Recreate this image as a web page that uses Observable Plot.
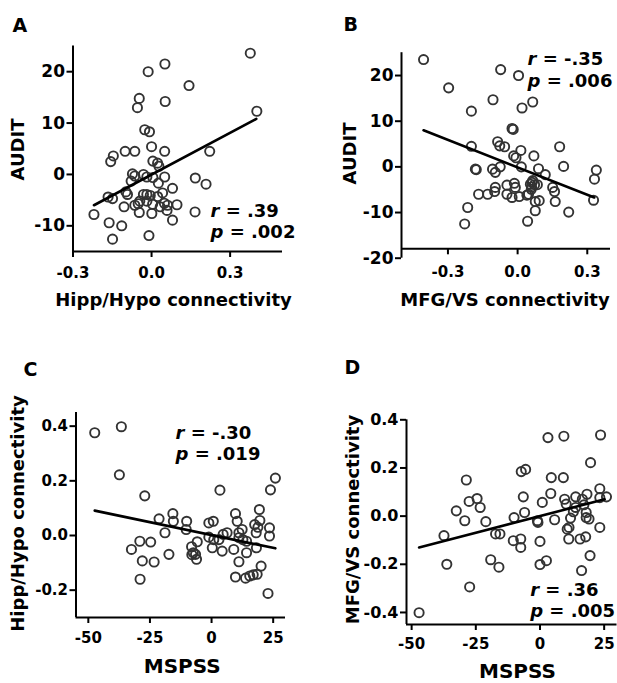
<!DOCTYPE html>
<html><head><meta charset="utf-8">
<script src="https://cdn.jsdelivr.net/npm/d3@7"></script>
<script src="https://cdn.jsdelivr.net/npm/@observablehq/plot@0.6"></script>
<style>
html,body{margin:0;padding:0;background:#fff;}
#fig{position:relative;width:617px;height:683px;overflow:hidden;background:#fff;}
#fig svg{position:absolute;}
#fig svg text{font-weight:bold;}
</style></head><body><div id="fig"></div>
<script>
// ---------- Panel A: Hipp/Hypo connectivity vs AUDIT ----------
const aConn = [0.377,0.051,-0.013,0.143,-0.047,0.052,-0.054,0.402,-0.026,-0.008,0.000,-0.101,-0.064,0.050,0.222,-0.146,-0.156,0.005,0.023,0.028,-0.073,-0.064,-0.031,-0.018,0.050,0.005,-0.078,0.026,0.167,0.208,0.080,-0.098,-0.092,-0.166,-0.149,-0.031,-0.018,-0.005,0.023,0.042,-0.045,-0.051,-0.064,-0.018,0.004,0.033,0.049,0.061,0.097,-0.105,-0.047,0.001,0.059,0.166,-0.220,0.080,-0.162,-0.114,-0.149,-0.010];
const aAudit = [23.6,21.5,20.0,17.3,14.8,14.2,13.0,12.3,8.7,8.3,5.4,4.5,4.5,4.5,4.5,3.6,2.5,2.6,2.2,1.6,0.1,-0.3,0.0,-0.5,-0.5,-0.6,-1.3,-1.7,-0.7,-1.9,-2.7,-3.4,-3.9,-4.4,-4.7,-3.9,-3.9,-4.1,-4.3,-3.6,-5.2,-5.7,-6.0,-5.2,-5.8,-6.3,-5.6,-6.0,-5.9,-6.3,-7.4,-7.6,-7.0,-7.3,-7.8,-8.9,-9.4,-10.0,-12.6,-11.9];
const aFitX = [-0.22, 0.40];
const aFitY = [-6.0, 10.8];
const aXTicks = [-0.3, 0.0, 0.3];
const aYTicks = [-10, 0, 10, 20];
const aStats = ["r = .39", "p = .002"];

// ---------- Panel B: MFG/VS connectivity vs AUDIT ----------
const bConn = [-0.405,-0.297,-0.073,0.004,-0.106,0.065,0.019,-0.199,-0.024,-0.019,-0.086,-0.077,-0.056,-0.199,0.181,0.014,-0.017,-0.007,0.070,0.198,0.016,-0.075,-0.182,-0.178,-0.108,-0.096,0.090,0.339,0.119,0.331,-0.046,-0.014,-0.010,-0.096,-0.099,-0.168,-0.129,-0.046,-0.024,0.007,0.040,0.055,0.062,0.073,0.085,0.059,0.047,0.151,0.159,0.076,0.093,0.162,0.327,0.076,0.220,-0.215,-0.228,0.043,0.065,0.060];
const bAudit = [23.5,17.3,21.3,20.0,14.7,14.2,12.9,12.2,8.4,8.2,5.5,4.6,4.4,4.5,4.4,3.6,2.4,2.0,2.4,0.1,0.0,0.0,-0.5,-0.6,-0.5,-1.2,-0.4,-0.7,-1.7,-2.7,-4.0,-3.6,-4.5,-4.5,-5.4,-6.0,-6.0,-6.0,-6.7,-6.5,-6.2,-3.8,-3.4,-3.9,-3.9,-4.9,-6.0,-4.5,-5.4,-7.6,-7.4,-7.6,-7.3,-9.6,-9.9,-8.9,-12.5,-11.9,-3.0,-4.4];
const bFitX = [-0.405, 0.33];
const bFitY = [8.0, -6.7];
const bXTicks = [-0.3, 0.0, 0.3];
const bYTicks = [-20, -10, 0, 10, 20];
const bStats = ["r = -.35", "p = .006"];

// ---------- Panel C: MSPSS vs Hipp/Hypo connectivity ----------
const cMspss = [-47.4,-36.6,-37.4,-27.1,-21.3,-15.7,-15.5,-10.1,-10.3,-18.9,-29.1,-24.7,-32.5,-28.1,-23.3,-17.3,-29.0,-5.8,-8.1,-7.4,-6.5,-6.1,-8.0,3.4,-1.1,0.7,-1.1,0.9,3.0,0.3,4.3,4.7,6.3,9.7,10.4,9.0,11.1,12.4,11.1,12.7,14.2,14.2,11.1,9.7,13.8,15.5,16.9,18.5,20.1,19.4,19.6,17.5,18.8,18.1,18.2,23.5,23.5,23.9,25.9,22.9];
const cConn = [0.376,0.398,0.222,0.145,0.061,0.080,0.052,0.052,0.022,0.010,-0.021,-0.024,-0.051,-0.093,-0.097,-0.069,-0.160,-0.023,-0.041,-0.063,-0.069,-0.087,-0.070,0.166,0.046,0.052,-0.006,-0.015,-0.015,-0.045,-0.057,0.004,0.010,0.080,0.052,-0.051,0.010,0.022,-0.008,-0.015,-0.021,-0.063,-0.096,-0.152,-0.156,-0.148,-0.144,-0.142,-0.112,0.095,0.055,0.040,0.030,0.010,-0.045,0.028,-0.002,0.167,0.210,-0.212];
const cFitX = [-47.4, 25.9];
const cFitY = [0.091, -0.047];
const cXTicks = [-50, -25, 0, 25];
const cYTicks = [-0.2, 0.0, 0.2, 0.4];
const cStats = ["r = -.30", "p = .019"];

// ---------- Panel D: MSPSS vs MFG/VS connectivity ----------
const dMspss = [-47.1,-37.4,-36.3,-27.4,-32.6,-29.3,-28.7,-27.6,-24.5,-23.3,-21.1,-19.2,-16.0,-17.3,-15.6,-10.1,-10.4,-7.5,-7.5,-7.3,-5.6,-6.5,-6.0,-1.0,-0.8,0.0,0.0,2.5,0.9,3.1,4.4,4.2,5.7,9.3,9.1,9.6,10.2,13.9,11.9,13.0,10.6,11.3,11.2,15.6,13.9,16.5,18.3,18.0,18.0,19.1,17.8,19.5,16.2,19.7,23.3,23.6,23.3,23.3,25.9,17.1];
const dConn = [-0.401,-0.081,-0.200,-0.294,0.022,-0.019,0.150,0.061,0.073,0.036,-0.023,-0.181,-0.212,-0.074,-0.074,-0.006,-0.102,-0.095,-0.130,0.185,0.194,0.080,0.015,-0.019,-0.026,-0.105,-0.201,-0.185,0.057,0.326,0.160,0.094,-0.015,0.332,0.160,0.070,0.050,0.080,-0.008,0.018,-0.054,-0.047,-0.095,-0.095,0.036,0.070,0.091,0.015,-0.006,-0.012,-0.086,-0.164,-0.226,0.222,0.114,0.337,0.077,-0.047,0.080,0.047];
const dFitX = [-47.1, 25.2];
const dFitY = [-0.130, 0.070];
const dXTicks = [-50, -25, 0, 25];
const dYTicks = [-0.4, -0.2, 0.0, 0.2, 0.4];
const dStats = ["r = .36", "p = .005"];

const FONT = "'DejaVu Sans', sans-serif";
const intFmt = d => String(d);
const dec1 = d => d.toFixed(1);

function panel(p) {
  const [fl, fr, ft, fb] = p.frame;
  const ml = fl, mr = p.w - fr, mt = ft, mb = p.h - fb;
  const n = p.xs.length;
  const at = (x, y) => ({frameAnchor: "top-left", dx: x - ml, dy: y - mt});
  const svg = Plot.plot({
    width: p.w, height: p.h,
    marginLeft: ml, marginRight: mr, marginTop: mt, marginBottom: mb,
    x: {domain: p.xDomain}, y: {domain: p.yDomain},
    style: {fontFamily: FONT, fontWeight: "bold", background: "transparent", overflow: "visible", color: "#000"},
    marks: [
      Plot.ruleX([p.xDomain[0]], {stroke: "#000", strokeWidth: 2}),
      Plot.ruleY([p.yDomain[0]], {stroke: "#000", strokeWidth: 2, dy: p.xAxisDy}),
      Plot.axisY({ticks: p.yTicks, tickSize: 6, tickPadding: 2, tickFormat: p.yFmt, fontSize: p.yTickFont, fontWeight: "bold", strokeWidth: 2, label: null}),
      Plot.axisX({ticks: p.xTicks, tickSize: 6, tickPadding: p.xPad, tickFormat: p.xFmt, fontSize: 15, fontWeight: "bold", strokeWidth: 2, label: null, dy: p.xAxisDy}),
      Plot.dot({length: n}, {x: p.xs, y: p.ys, r: 4.6, stroke: "#333", strokeWidth: 1.9, fill: "none"}),
      Plot.line({length: 2}, {x: p.fitX, y: p.fitY, stroke: "#000", strokeWidth: 2.6}),
      Plot.text([p.letter], {text: d => d, ...at(...p.letterPos), textAnchor: "start", lineAnchor: "middle", fontSize: 19, fontWeight: "bold"}),
      Plot.text([p.yTitle], {text: d => d, ...at(...p.yTitlePos), rotate: -90, textAnchor: "middle", lineAnchor: "middle", fontSize: p.yTitleFont, fontWeight: "bold"}),
      Plot.text([p.xTitle], {text: d => d, ...at(...p.xTitlePos), textAnchor: "middle", lineAnchor: "middle", fontSize: p.xTitleFont, fontWeight: "bold"}),
      Plot.text([p.stats[0]], {text: d => d, ...at(p.statsX, p.rY), textAnchor: "start", lineAnchor: "middle", fontSize: 18, fontWeight: "bold"}),
      Plot.text([p.stats[1]], {text: d => d, ...at(p.statsX, p.pY), textAnchor: "start", lineAnchor: "middle", fontSize: 18, fontWeight: "bold"})
    ]
  });
  // italic statistic symbols (r, p)
  svg.querySelectorAll("text").forEach(t => {
    const m = /^([rp])( = .*)$/.exec(t.textContent);
    if (m && t.children.length === 0) {
      t.textContent = "";
      const ns = "http://www.w3.org/2000/svg";
      const a = document.createElementNS(ns, "tspan");
      a.setAttribute("font-style", "italic");
      a.textContent = m[1];
      const b = document.createElementNS(ns, "tspan");
      b.textContent = m[2];
      t.append(a, b);
    }
  });
  svg.style.left = p.left + "px";
  svg.style.top = p.top + "px";
  return svg;
}

const fig = document.getElementById("fig");
fig.append(panel({
  left: 0, top: 0, w: 308, h: 330, frame: [72.5, 282, 45.5, 251],
  xDomain: [-0.3, 0.5], yDomain: [-15, 25], xTicks: aXTicks, yTicks: aYTicks,
  xFmt: dec1, yFmt: intFmt, xPad: 10, xAxisDy: 0, yTickFont: 17,
  xs: aConn, ys: aAudit, fitX: aFitX, fitY: aFitY,
  letter: "A", letterPos: [12, 25],
  yTitle: "AUDIT", yTitlePos: [17.5, 149], yTitleFont: 18,
  xTitle: "Hipp/Hypo connectivity", xTitlePos: [173, 300], xTitleFont: 18,
  stats: aStats, statsX: 210, rY: 211, pY: 232
}));
fig.append(panel({
  left: 308, top: 0, w: 309, h: 330, frame: [93, 302, 52.2, 257.7],
  xDomain: [-0.5, 0.4], yDomain: [-20, 25], xTicks: bXTicks, yTicks: bYTicks,
  xFmt: dec1, yFmt: intFmt, xPad: 12, xAxisDy: -9.4, yTickFont: 17,
  xs: bConn, ys: bAudit, fitX: bFitX, fitY: bFitY,
  letter: "B", letterPos: [35, 24],
  yTitle: "AUDIT", yTitlePos: [42, 153], yTitleFont: 18,
  xTitle: "MFG/VS connectivity", xTitlePos: [196.5, 300], xTitleFont: 18,
  stats: bStats, statsX: 219, rY: 58.5, pY: 80.5
}));
fig.append(panel({
  left: 0, top: 330, w: 308, h: 353, frame: [75.5, 285, 82, 287],
  xDomain: [-55, 30], yDomain: [-0.3, 0.45], xTicks: cXTicks, yTicks: cYTicks,
  xFmt: intFmt, yFmt: dec1, xPad: 9, xAxisDy: 0, yTickFont: 15,
  xs: cMspss, ys: cConn, fitX: cFitX, fitY: cFitY,
  letter: "C", letterPos: [23, 39],
  yTitle: "Hipp/Hypo connectivity", yTitlePos: [18, 183], yTitleFont: 18,
  xTitle: "MSPSS", xTitlePos: [181.7, 335.7], xTitleFont: 20,
  stats: cStats, statsX: 175, rY: 102.5, pY: 124
}));
fig.append(panel({
  left: 308, top: 330, w: 309, h: 353, frame: [98, 308.5, 89.3, 294],
  xDomain: [-52, 30], yDomain: [-0.45, 0.4], xTicks: dXTicks, yTicks: dYTicks,
  xFmt: intFmt, yFmt: dec1, xPad: 8, xAxisDy: 0, yTickFont: 16,
  xs: dMspss, ys: dConn, fitX: dFitX, fitY: dFitY,
  letter: "D", letterPos: [36, 37.5],
  yTitle: "MFG/VS connectivity", yTitlePos: [45, 189], yTitleFont: 18,
  xTitle: "MSPSS", xTitlePos: [209, 340.7], xTitleFont: 20,
  stats: dStats, statsX: 221.7, rY: 260, pY: 281
}));
</script>
</body></html>
